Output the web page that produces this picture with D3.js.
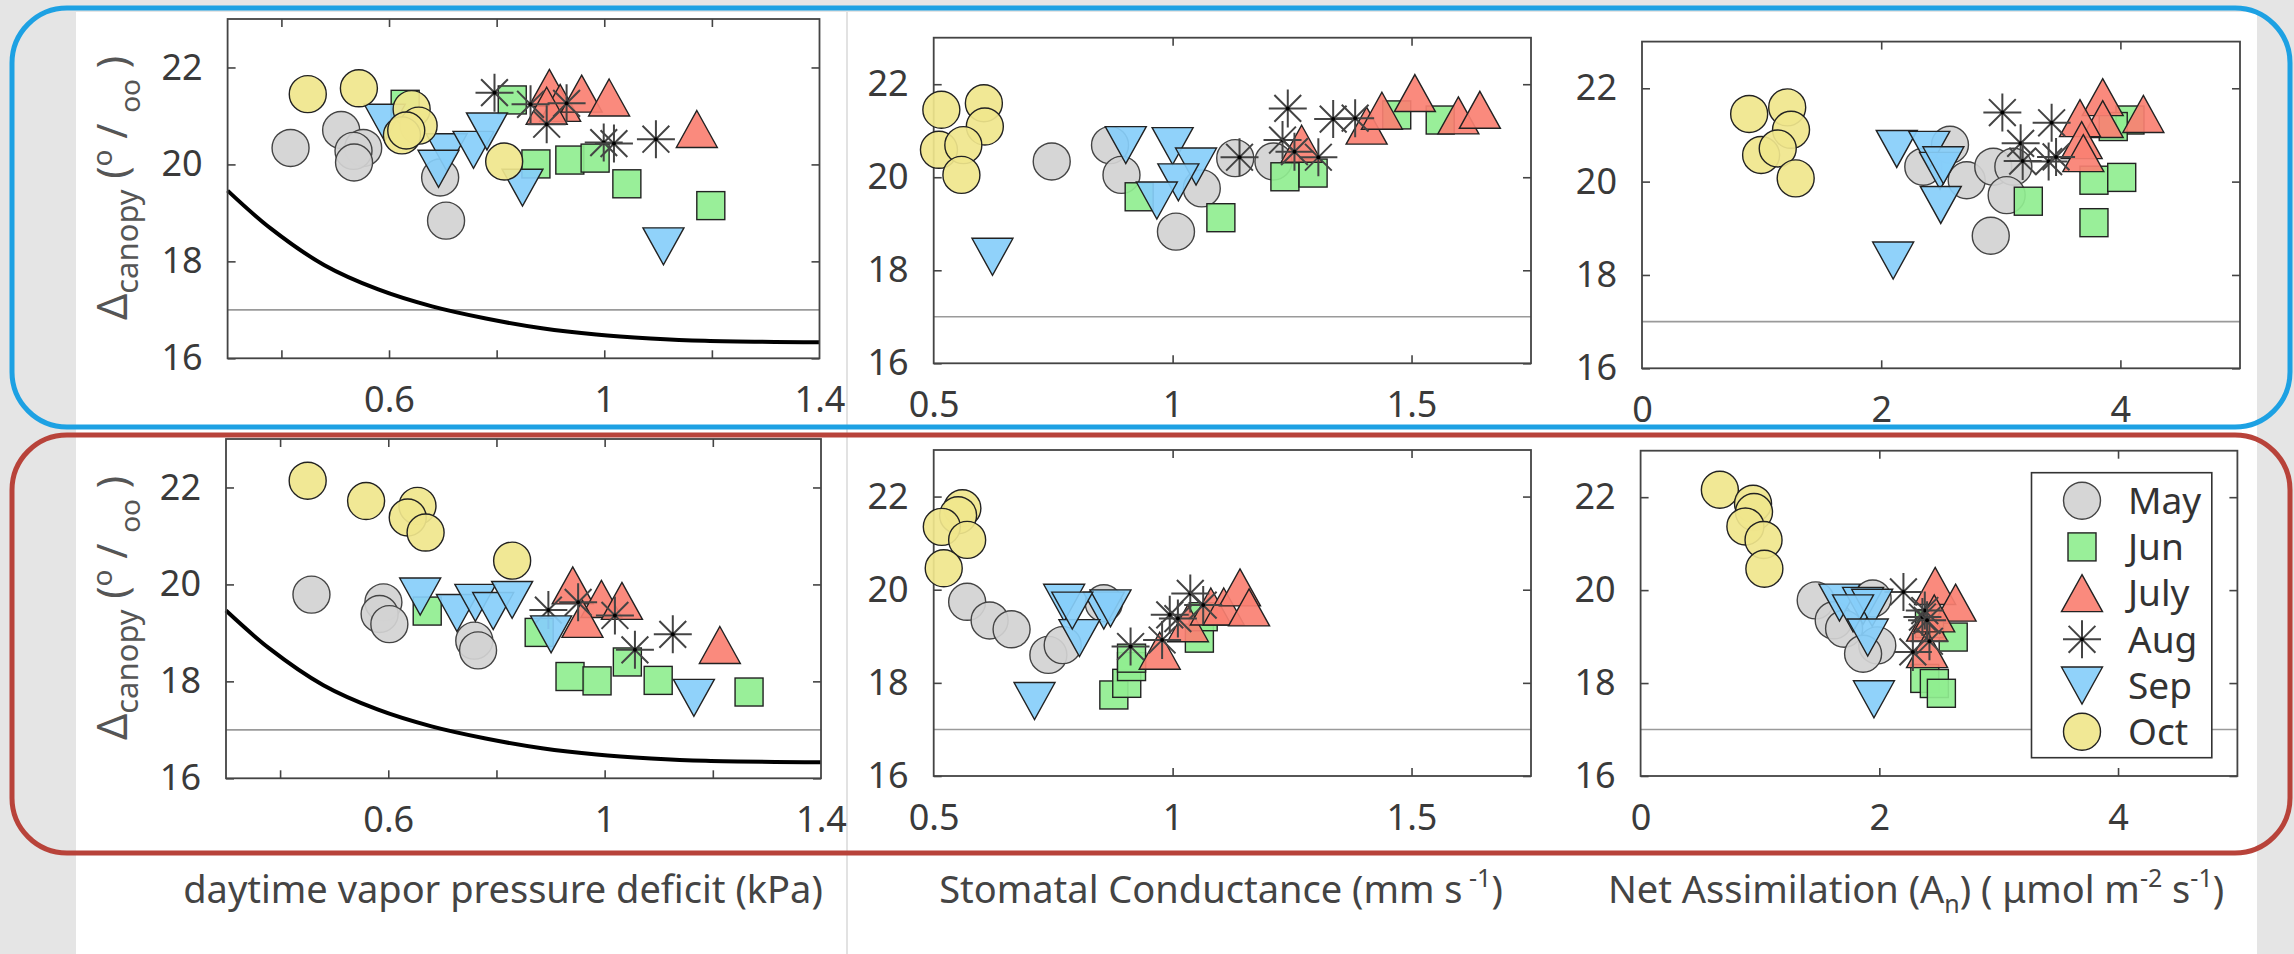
<!DOCTYPE html>
<html>
<head>
<meta charset="utf-8">
<title>Delta canopy</title>
<script src="https://d3js.org/d3.v7.min.js"></script>
<style>
  body { margin: 0; background: #e5e5e5; }
  svg { display: block; }
  text { font-family: "Noto Sans", "Open Sans", sans-serif; }
</style>
</head>
<body>
<div id="vis"></div>
<script>
// months, legend order
const months = ["May", "Jun", "July", "Aug", "Sep", "Oct"];
const fills = ["#d3d3d3", "#90ee90", "#fa8072", "#000000", "#87cefa", "#f0e68c"];
const shapes = ["circle", "square", "up", "star", "down", "circle"];

// top row, [x, delta]
const vpdTop = {
  May: [[0.417,20.34],[0.511,20.71],[0.552,20.34],[0.534,20.28],[0.535,20.04],[0.695,19.73],[0.706,18.84]],
  Jun: [[0.630,21.24],[0.829,21.33],[0.873,20.01],[0.936,20.09],[0.983,20.13],[1.042,19.60],[1.198,19.15]],
  July: [[0.898,21.58],[0.918,21.27],[0.893,21.21],[0.958,21.46],[1.009,21.38],[1.172,20.73]],
  Aug: [[0.796,21.48],[0.863,21.24],[0.893,20.83],[0.930,21.26],[0.999,20.45],[1.018,20.43],[1.096,20.52]],
  Sep: [[0.592,20.86],[0.707,20.25],[0.692,19.91],[0.757,20.30],[0.782,20.68],[0.848,19.52],[1.110,18.31]],
  Oct: [[0.449,21.45],[0.544,21.57],[0.642,21.14],[0.655,20.80],[0.624,20.60],[0.632,20.70],[0.814,20.06]]
};
const gsTop = {
  May: [[0.747,20.34],[0.869,20.69],[0.893,20.05],[1.061,19.76],[1.007,18.83],[1.131,20.41],[1.211,20.34]],
  Jun: [[0.930,19.58],[1.101,19.13],[1.235,20.01],[1.294,20.09],[1.469,21.34],[1.560,21.23]],
  July: [[1.270,20.72],[1.406,21.11],[1.438,21.43],[1.507,21.81],[1.598,21.33],[1.643,21.45]],
  Aug: [[1.241,21.48],[1.230,20.80],[1.255,20.55],[1.305,20.43],[1.140,20.43],[1.336,21.25],[1.382,21.27]],
  Sep: [[0.902,20.69],[1.000,20.67],[1.049,20.23],[1.012,19.89],[0.967,19.50],[0.623,18.29]],
  Oct: [[0.516,21.45],[0.605,21.59],[0.607,21.09],[0.511,20.59],[0.562,20.69],[0.558,20.05]]
};
const anTop = {
  May: [[2.352,20.32],[2.575,20.79],[2.715,20.03],[2.937,20.32],[3.105,20.32],[3.049,19.71],[2.916,18.84]],
  Jun: [[3.23,19.58],[3.779,20.03],[4.011,20.09],[3.779,19.12],[4.08,21.32],[3.94,21.18]],
  July: [[3.852,21.81],[4.192,21.45],[3.852,21.34],[3.662,21.36],[3.676,20.89],[3.69,20.61]],
  Aug: [[3.013,21.48],[3.425,21.26],[3.166,20.82],[3.183,20.44],[3.40,20.43],[3.462,20.53]],
  Sep: [[2.13,20.70],[2.402,20.68],[2.492,20.23],[2.52,20.35],[2.498,19.50],[2.10,18.31]],
  Oct: [[0.896,21.45],[1.214,21.59],[1.246,21.11],[0.996,20.57],[1.135,20.71],[1.285,20.07]]
};

// bottom row
const vpdBot = {
  May: [[0.458,19.79],[0.591,19.63],[0.584,19.39],[0.602,19.18],[0.759,18.84],[0.766,18.64]],
  Jun: [[0.672,19.45],[0.879,19.01],[0.936,18.10],[0.986,18.01],[1.042,18.40],[1.099,18.02],[1.267,17.78]],
  July: [[0.941,19.98],[0.994,19.70],[1.032,19.66],[0.959,19.29],[1.213,18.75]],
  Aug: [[0.896,19.47],[0.951,19.63],[1.019,19.36],[1.056,18.65],[1.126,18.97]],
  Sep: [[0.659,19.75],[0.727,19.41],[0.761,19.62],[0.794,19.45],[0.829,19.68],[0.901,18.97],[1.165,17.66]],
  Oct: [[0.451,22.14],[0.559,21.72],[0.654,21.62],[0.636,21.38],[0.669,21.07],[0.829,20.49]]
};
const gsBot = {
  May: [[0.570,19.74],[0.617,19.34],[0.663,19.15],[0.740,18.60],[0.770,18.81],[0.856,19.71]],
  Jun: [[0.877,17.74],[0.904,17.99],[0.914,18.35],[0.914,18.53],[1.056,18.96],[1.064,19.42]],
  July: [[0.973,18.69],[1.032,19.28],[1.080,19.64],[1.107,19.64],[1.141,20.05],[1.160,19.62]],
  Aug: [[0.912,18.78],[0.978,18.92],[1.011,19.38],[1.037,19.92],[1.064,19.67],[0.994,19.46]],
  Sep: [[0.773,19.72],[0.856,19.55],[0.870,19.60],[0.805,18.96],[0.790,19.55],[0.711,17.61]],
  Oct: [[0.560,21.75],[0.551,21.60],[0.517,21.35],[0.570,21.07],[0.521,20.46]]
};
const anBot = {
  May: [[1.467,19.78],[1.618,19.35],[1.705,19.17],[1.983,18.81],[1.864,18.63],[1.944,19.82]],
  Jun: [[2.619,18.99],[2.381,18.10],[2.461,17.99],[2.520,17.78],[2.42,19.28]],
  July: [[2.468,20.09],[2.639,19.73],[2.40,19.30],[2.40,18.73],[2.46,19.5]],
  Aug: [[2.202,19.96],[2.381,19.56],[2.361,19.42],[2.40,19.35],[2.281,18.67],[2.42,18.9]],
  Sep: [[1.666,19.73],[1.864,19.66],[1.94,19.62],[1.78,19.5],[1.903,18.98],[1.955,17.65]],
  Oct: [[0.664,22.16],[0.942,21.86],[0.950,21.68],[0.878,21.37],[1.030,21.08],[1.037,20.46]]
};

// black curve in the vpd panels
const curveVpd = [0.30, 0.38, 0.48, 0.58, 0.68, 0.78, 0.884, 0.985, 1.086, 1.187, 1.40];
const curveDelta = [19.46, 18.68, 17.92, 17.42, 17.07, 16.82, 16.62, 16.49, 16.41, 16.36, 16.33];
const refLine = 17;

const yTicks = [16, 18, 20, 22];
const vpdTicks = [0.4, 0.6, 0.8, 1.0, 1.2];
const vpdLabels = [0.6, 1, 1.4];
const gsTicks = [1, 1.5];
const gsLabels = [0.5, 1, 1.5];
const anTicks = [2, 4];
const anLabels = [0, 2, 4];

const W = 2294, H = 954;
const svg = d3.select("#vis").append("svg").attr("width", W).attr("height", H);

// page background
svg.append("rect").attr("width", W).attr("height", H).attr("fill", "#e5e5e5");
svg.append("rect").attr("x", 76).attr("y", 12).attr("width", 2181).attr("height", H - 12).attr("fill", "#fff");
svg.append("line").attr("x1", 847).attr("x2", 847).attr("y1", 12).attr("y2", H)
  .attr("stroke", "#e2e2e2").attr("stroke-width", 2);

const panels = [
  {data: vpdTop, dom: [0.3, 1.4], x0: 227.6, x1: 819.5, y0: 19, y1: 358.3, ticks: vpdTicks, labels: vpdLabels, curve: true},
  {data: gsTop, dom: [0.5, 1.75], x0: 933.7, x1: 1531, y0: 37.7, y1: 363.3, ticks: gsTicks, labels: gsLabels},
  {data: anTop, dom: [0, 5], x0: 1642, x1: 2240, y0: 41.6, y1: 368.3, ticks: anTicks, labels: anLabels},
  {data: vpdBot, dom: [0.3, 1.4], x0: 226, x1: 821, y0: 439, y1: 778.3, ticks: vpdTicks, labels: vpdLabels, curve: true},
  {data: gsBot, dom: [0.5, 1.75], x0: 933.7, x1: 1531, y0: 450, y1: 776, ticks: gsTicks, labels: gsLabels},
  {data: anBot, dom: [0, 5], x0: 1640.6, x1: 2237.4, y0: 450.7, y1: 776, ticks: anTicks, labels: anLabels, legend: true}
];

function marker(g, i) {
  const s = shapes[i];
  if (s == "circle") {
    g.append("circle").attr("r", 18.5);
  } else if (s == "square") {
    g.append("rect").attr("x", -14).attr("y", -14).attr("width", 28).attr("height", 28);
  } else if (s == "up") {
    g.append("path").attr("d", "M0,-18.5L20.5,18.5L-20.5,18.5Z");
  } else if (s == "down") {
    g.append("path").attr("d", "M-20.5,-18.5L20.5,-18.5L0,18.5Z");
  } else {
    g.append("path").attr("d", "M-19,0H19M0,-19V19M-13.4,-13.4L13.4,13.4M-13.4,13.4L13.4,-13.4")
      .attr("stroke", "#444").attr("stroke-width", 2).attr("fill", "none");
    g.append("circle").attr("r", 2).attr("fill", "#000");
    return;
  }
  g.select(":first-child").attr("fill", fills[i]).attr("fill-opacity", 0.92)
    .attr("stroke", i == 0 ? "#444" : "#222").attr("stroke-width", 1.4);
}

panels.forEach(function(p) {
  const x = d3.scaleLinear().domain(p.dom).range([p.x0, p.x1]);
  const y = d3.scaleLinear().domain([16, 23]).range([p.y1, p.y0]);
  const g = svg.append("g");

  // reference line at 17
  g.append("line").attr("x1", p.x0).attr("x2", p.x1).attr("y1", y(refLine)).attr("y2", y(refLine))
    .attr("stroke", "#9a9a9a").attr("stroke-width", 1.6);

  if (p.curve) {
    const line = d3.line().x(d => x(d[0])).y(d => y(d[1])).curve(d3.curveCatmullRom.alpha(0.5));
    g.append("path").datum(curveVpd.map((v, i) => [v, curveDelta[i]]))
      .attr("d", line).attr("fill", "none").attr("stroke", "#000").attr("stroke-width", 4);
  }

  // tick marks, inward on all four sides
  const mk = (axis, tx, ty) => g.append("g").attr("transform", `translate(${tx},${ty})`)
    .call(axis.tickSizeOuter(0).tickFormat(""))
    .call(a => a.select(".domain").remove())
    .selectAll("line").attr("stroke", "#444").attr("stroke-width", 1.6);
  mk(d3.axisBottom(x).tickValues(p.ticks).tickSize(-8), 0, p.y1);
  mk(d3.axisTop(x).tickValues(p.ticks).tickSize(-8), 0, p.y0);
  mk(d3.axisLeft(y).tickValues(yTicks).tickSize(-8), p.x0, 0);
  mk(d3.axisRight(y).tickValues(yTicks).tickSize(-8), p.x1, 0);

  // tick labels
  const lab = (axis, tx, ty) => g.append("g").attr("transform", `translate(${tx},${ty})`)
    .call(axis.tickSize(0).tickSizeOuter(0))
    .call(a => a.select(".domain").remove())
    .selectAll("text").attr("font-size", 36).attr("fill", "#3a3a3a")
    .attr("font-family", "'Noto Sans', 'Open Sans', sans-serif");
  lab(d3.axisBottom(x).tickValues(p.labels).tickFormat(d => String(d)).tickPadding(28), 0, p.y1);
  lab(d3.axisLeft(y).tickValues(yTicks).tickFormat(d => String(d)).tickPadding(25), p.x0, 0);

  g.append("rect").attr("x", p.x0).attr("y", p.y0).attr("width", p.x1 - p.x0).attr("height", p.y1 - p.y0)
    .attr("fill", "none").attr("stroke", "#444").attr("stroke-width", 1.8);

  // markers, drawn month by month
  months.forEach(function(m, i) {
    g.append("g").selectAll("g").data(p.data[m]).join("g")
      .attr("transform", d => `translate(${x(d[0])},${y(d[1])})`)
      .each(function() { marker(d3.select(this), i); });
  });

  if (p.legend) {
    const lg = g.append("g");
    lg.append("rect").attr("x", 2031.5).attr("y", 472.7).attr("width", 180.3).attr("height", 285)
      .attr("fill", "#fff").attr("stroke", "#333").attr("stroke-width", 1.6);
    months.forEach(function(m, i) {
      const ly = 500.7 + i * 46.2;
      marker(lg.append("g").attr("transform", `translate(2082,${ly})`), i);
      lg.append("text").attr("x", 2128).attr("y", ly).attr("dy", "0.36em")
        .attr("font-size", 37).attr("fill", "#333").text(m);
    });
  }
});

// y axis titles
[188, 608].forEach(function(cy) {
  const t = svg.append("text").attr("transform", `translate(127,${cy}) rotate(-90)`)
    .attr("text-anchor", "middle").attr("font-size", 41).attr("fill", "#555");
  t.append("tspan").text("\u0394");
  t.append("tspan").attr("font-size", 31).attr("dy", 11).text("canopy");
  t.append("tspan").attr("dy", -11).text(" (");
  t.append("tspan").attr("font-size", 28).attr("dy", -15).text("o");
  t.append("tspan").attr("dy", 15).text(" / ");
  t.append("tspan").attr("font-size", 28).attr("dy", 13).text("oo");
  t.append("tspan").attr("dy", -13).text(" )");
});

// x axis titles
const xt = (cx) => svg.append("text").attr("x", cx).attr("y", 903).attr("text-anchor", "middle")
  .attr("font-size", 38).attr("fill", "#444");
xt(503).text("daytime vapor pressure deficit (kPa)");
const t2 = xt(1221);
t2.append("tspan").text("Stomatal Conductance (mm s");
t2.append("tspan").attr("font-size", 25).attr("dy", -16).text(" -1");
t2.append("tspan").attr("dy", 16).text(")");
const t3 = xt(1916);
t3.append("tspan").text("Net Assimilation (A");
t3.append("tspan").attr("font-size", 25).attr("dy", 10).text("n");
t3.append("tspan").attr("dy", -10).text(") ( \u03bcmol m");
t3.append("tspan").attr("font-size", 25).attr("dy", -16).text("-2");
t3.append("tspan").attr("dy", 16).text(" s");
t3.append("tspan").attr("font-size", 25).attr("dy", -16).text("-1");
t3.append("tspan").attr("dy", 16).text(")");

// rounded frames round each row
svg.append("rect").attr("x", 12).attr("y", 8).attr("width", 2278).attr("height", 419).attr("rx", 55)
  .attr("fill", "none").attr("stroke", "#1da1e3").attr("stroke-width", 5);
svg.append("rect").attr("x", 12).attr("y", 435).attr("width", 2278).attr("height", 418).attr("rx", 55)
  .attr("fill", "none").attr("stroke", "#b8433a").attr("stroke-width", 5);
</script>
</body>
</html>
